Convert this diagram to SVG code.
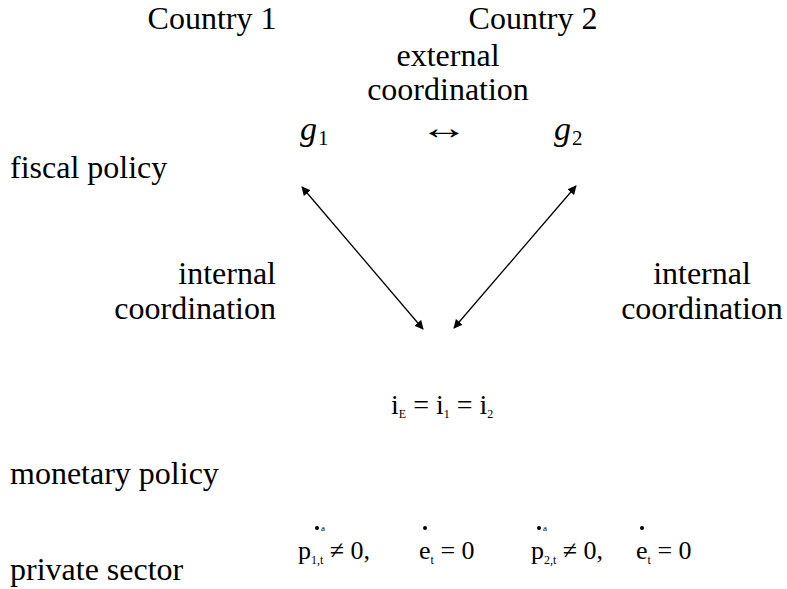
<svg xmlns="http://www.w3.org/2000/svg" width="787" height="589" viewBox="0 0 787 589">
<style>
text{font-family:"Liberation Serif","Times New Roman",serif;fill:#000}
.t{font-size:32px}
.c{text-anchor:middle}
.e{text-anchor:end}
.m{font-size:26px}
.s{font-size:12px}
.sup{font-size:9px}
.ln{stroke:#000;stroke-width:1.3;fill:none}
</style>
<defs>
<marker id="ah" viewBox="0 0 10 10" refX="9" refY="5" markerWidth="9" markerHeight="9" markerUnits="userSpaceOnUse" orient="auto-start-reverse">
<path d="M0,0 L10,5 L0,10 z" fill="#000"/>
</marker>
</defs>
<rect width="787" height="589" fill="#fff"/>
<g id="country1"><text class="t c" x="212" y="29">Country 1</text></g>
<g id="country2"><text class="t c" x="533" y="29">Country 2</text></g>
<g id="external"><text class="t c" x="448" y="66">external</text><text class="t c" x="448" y="100">coordination</text><text transform="translate(444,139) scale(1.45,1)" x="0" y="0" font-size="34" text-anchor="middle" font-family="DejaVu Sans, sans-serif">↔</text></g>
<g id="g1"><text x="300" y="140" font-size="34" font-style="italic">g</text><text x="318" y="145" font-size="21">1</text></g>
<g id="g2"><text x="554" y="140" font-size="34" font-style="italic">g</text><text x="572" y="145" font-size="21">2</text></g>
<g id="fiscal"><text class="t" x="10" y="178">fiscal policy</text></g>
<g id="internal1"><text class="t e" x="276" y="284">internal</text><text class="t e" x="276" y="319">coordination</text></g>
<g id="internal2"><text class="t c" x="702" y="284">internal</text><text class="t c" x="702" y="319">coordination</text></g>
<g id="interest"><text x="391" y="414" font-size="28" xml:space="preserve">i<tspan class="s" dy="4">E</tspan><tspan dy="-4"> = i</tspan><tspan class="s" dy="4">1</tspan><tspan dy="-4"> = i</tspan><tspan class="s" dy="4">2</tspan></text></g>
<g id="monetary"><text class="t" x="10" y="484">monetary policy</text></g>
<g id="private"><text class="t" x="10" y="580">private sector</text></g>
<g id="eq1"><text class="m" x="298" y="559" xml:space="preserve">p<tspan class="s" dy="5">1,t</tspan><tspan dy="-5"> ≠ 0,</tspan><tspan x="419">e</tspan><tspan class="s" dy="5">t</tspan><tspan dy="-5"> = 0</tspan></text>
<circle cx="317" cy="528" r="2"/><text class="sup" x="321" y="531">a</text><circle cx="425" cy="528" r="2"/></g>
<g id="eq2"><text class="m" x="531" y="559" xml:space="preserve">p<tspan class="s" dy="5">2,t</tspan><tspan dy="-5"> ≠ 0,</tspan><tspan x="636">e</tspan><tspan class="s" dy="5">t</tspan><tspan dy="-5"> = 0</tspan></text>
<circle cx="539" cy="528" r="2"/><text class="sup" x="543" y="531">a</text><circle cx="642" cy="528" r="2"/></g>
<g id="connectors">
<line class="ln" x1="302" y1="187" x2="423" y2="329" marker-start="url(#ah)" marker-end="url(#ah)"/>
<line class="ln" x1="576" y1="186" x2="454" y2="328" marker-start="url(#ah)" marker-end="url(#ah)"/>
</g>
</svg>
